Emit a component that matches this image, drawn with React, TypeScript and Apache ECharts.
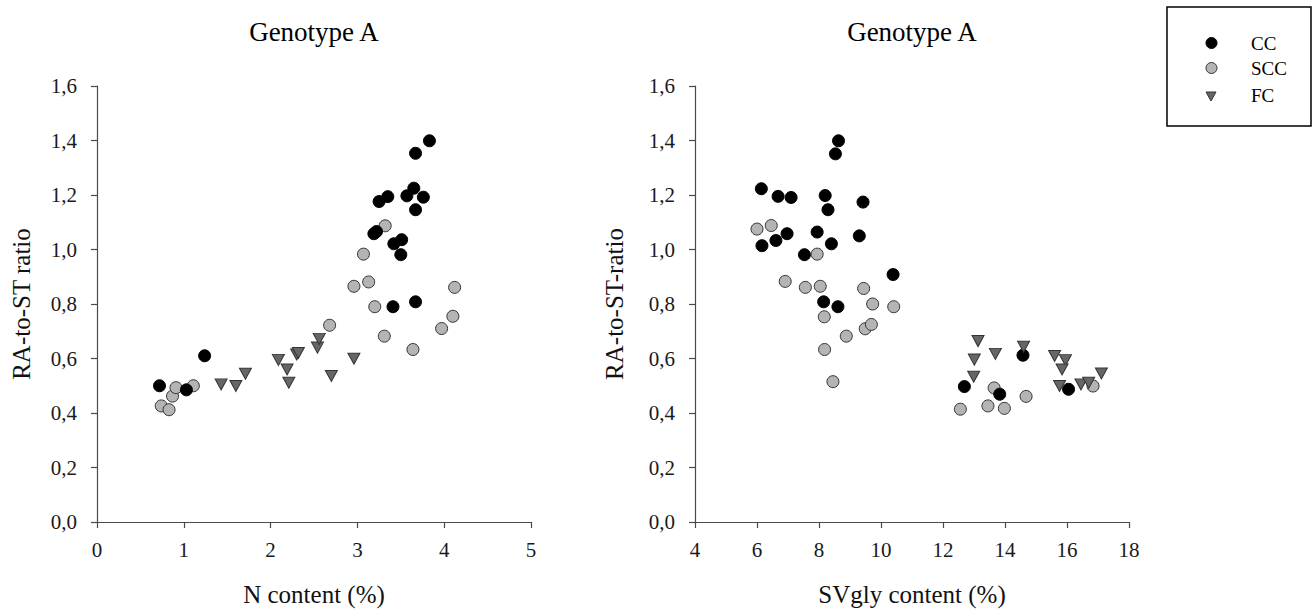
import React, { useEffect, useRef } from "react";
import * as echarts from "echarts";

const FONT = "Liberation Serif";

// Panel titles and axis names
const panelTitles = ["Genotype A", "Genotype A"];
const xNames = ["N content (%)", "SVgly content (%)"];
const yNames = ["RA-to-ST ratio", "RA-to-ST-ratio"];
const seriesNames = ["CC", "SCC", "FC"];

// Left panel: N content (%) vs RA-to-ST ratio
const nCC: [number, number][] = [
  [0.72, 0.5], [1.03, 0.485], [1.24, 0.61], [3.19, 1.058], [3.22, 1.066], [3.25, 1.176],
  [3.35, 1.194], [3.42, 1.021], [3.51, 1.036], [3.5, 0.981], [3.57, 1.197], [3.65, 1.225],
  [3.67, 1.353], [3.67, 1.146], [3.76, 1.192], [3.83, 1.399], [3.41, 0.79], [3.67, 0.808],
];
const nSCC: [number, number][] = [
  [0.74, 0.426], [0.83, 0.412], [0.87, 0.462], [0.91, 0.493], [1.11, 0.5], [2.68, 0.722],
  [2.96, 0.865], [3.07, 0.983], [3.13, 0.881], [3.2, 0.79], [3.31, 0.682], [3.32, 1.087],
  [3.64, 0.633], [3.97, 0.71], [4.1, 0.755], [4.12, 0.861],
];
const nFC: [number, number][] = [
  [1.43, 0.505], [1.6, 0.499], [1.71, 0.544], [2.09, 0.595], [2.19, 0.56], [2.21, 0.511],
  [2.3, 0.615], [2.32, 0.62], [2.54, 0.64], [2.56, 0.672], [2.7, 0.536], [2.96, 0.599],
];

// Right panel: SVgly content (%) vs RA-to-ST ratio
const sCC: [number, number][] = [
  [6.14, 1.223], [6.16, 1.014], [6.61, 1.033], [6.68, 1.195], [6.97, 1.058], [7.1, 1.191],
  [7.53, 0.981], [7.94, 1.064], [8.2, 1.198], [8.29, 1.146], [8.4, 1.021], [8.53, 1.351],
  [8.63, 1.399], [8.15, 0.808], [8.61, 0.79], [9.3, 1.05], [9.42, 1.174], [10.39, 0.908],
  [12.69, 0.497], [13.83, 0.469], [14.58, 0.612], [16.05, 0.487],
];
const sSCC: [number, number][] = [
  [6.0, 1.075], [6.46, 1.088], [6.91, 0.883], [7.56, 0.861], [7.94, 0.983], [8.04, 0.865],
  [8.17, 0.753], [8.18, 0.633], [8.45, 0.515], [8.88, 0.682], [9.44, 0.857], [9.49, 0.709],
  [9.69, 0.725], [9.73, 0.8], [10.41, 0.79], [13.65, 0.492], [12.56, 0.414], [13.45, 0.426],
  [13.98, 0.417], [14.68, 0.461], [16.84, 0.499],
];
const sFC: [number, number][] = [
  [13.13, 0.664], [13.69, 0.617], [13.01, 0.596], [12.99, 0.533], [14.6, 0.643], [15.6, 0.609],
  [15.95, 0.594], [15.84, 0.56], [15.76, 0.499], [16.45, 0.505], [16.7, 0.511], [17.11, 0.545],
];

// Axis ranges
const xRanges = [
  { min: 0, max: 5, interval: 1 },
  { min: 4, max: 18, interval: 2 },
];
const yRange = { min: 0, max: 1.6, interval: 0.2 };

const TRI = "path://M0,0 L10,0 L5,9 Z";
const AXIS_COLOR = "#4a4a4a";

const styles = {
  CC: { symbol: "circle", symbolSize: 12, itemStyle: { color: "#000000", borderColor: "#000000", borderWidth: 1, opacity: 1 } },
  SCC: { symbol: "circle", symbolSize: 12, itemStyle: { color: "#b4b4b4", borderColor: "#333333", borderWidth: 1, opacity: 1 } },
  FC: { symbol: TRI, symbolSize: [12, 11], itemStyle: { color: "#666666", borderColor: "#333333", borderWidth: 1, opacity: 1 } },
};

function xAxis(i: number, nameGap: number) {
  return {
    type: "value",
    gridIndex: i,
    ...xRanges[i],
    name: xNames[i],
    nameLocation: "middle",
    nameGap,
    nameTextStyle: { fontFamily: FONT, fontSize: 25, color: "#111" },
    axisLine: { show: true, onZero: false, lineStyle: { color: AXIS_COLOR, width: 1.2 } },
    axisTick: { show: true, inside: false, length: 6, lineStyle: { color: AXIS_COLOR, width: 1.2 } },
    axisLabel: { fontFamily: FONT, fontSize: 21, color: "#1a1a1a", margin: 17 },
    splitLine: { show: false },
  };
}

function yAxis(i: number, nameGap: number) {
  return {
    type: "value",
    gridIndex: i,
    ...yRange,
    name: yNames[i],
    nameLocation: "middle",
    nameGap,
    nameTextStyle: { fontFamily: FONT, fontSize: 25, color: "#111" },
    axisLine: { show: true, onZero: false, lineStyle: { color: AXIS_COLOR, width: 1.2 } },
    axisTick: { show: true, inside: false, length: 6, lineStyle: { color: AXIS_COLOR, width: 1.2 } },
    axisLabel: {
      fontFamily: FONT,
      fontSize: 21,
      color: "#1a1a1a",
      margin: 20,
      formatter: (v: number) => v.toFixed(1).replace(".", ","),
    },
    splitLine: { show: false },
  };
}

function series(name: string, data: [number, number][], i: number) {
  const st = (styles as any)[name];
  return {
    type: "scatter",
    name,
    xAxisIndex: i,
    yAxisIndex: i,
    data,
    symbol: st.symbol,
    symbolSize: st.symbolSize,
    itemStyle: st.itemStyle,
    emphasis: { disabled: true },
  };
}

const legendText = { fontFamily: FONT, fontSize: 19, fill: "#000" };

export default function App() {
  const ref = useRef<HTMLDivElement>(null);
  useEffect(() => {
    document.body.style.margin = "0";
    const chart = echarts.init(ref.current!, null, { renderer: "svg" });
    chart.setOption({
      animation: false,
      backgroundColor: "#ffffff",
      title: [
        { text: panelTitles[0], left: 314, top: 18, textAlign: "center", padding: 0, textStyle: { fontFamily: FONT, fontSize: 27, fontWeight: "normal", color: "#000" } },
        { text: panelTitles[1], left: 912, top: 18, textAlign: "center", padding: 0, textStyle: { fontFamily: FONT, fontSize: 27, fontWeight: "normal", color: "#000" } },
      ],
      grid: [
        { left: 97, top: 86, width: 434, height: 436 },
        { left: 695, top: 86, width: 434, height: 436 },
      ],
      xAxis: [xAxis(0, 60), xAxis(1, 60)],
      yAxis: [yAxis(0, 63), yAxis(1, 68)],
      series: [
        series("SCC", nSCC, 0),
        series("CC", nCC, 0),
        series("FC", nFC, 0),
        series("SCC", sSCC, 1),
        series("CC", sCC, 1),
        series("FC", sFC, 1),
      ],
      graphic: [
        { type: "rect", shape: { x: 1167, y: 7, width: 144, height: 119 }, style: { fill: "#fff", stroke: "#000", lineWidth: 1.5 } },
        { type: "circle", shape: { cx: 1211.5, cy: 43, r: 5.5 }, style: { fill: "#000", stroke: "#000", lineWidth: 1 } },
        { type: "circle", shape: { cx: 1211.5, cy: 68, r: 5.5 }, style: { fill: "#b4b4b4", stroke: "#333", lineWidth: 1 } },
        { type: "polygon", shape: { points: [[1206, 92], [1216, 92], [1211, 101]] }, style: { fill: "#666", stroke: "#333", lineWidth: 1 } },
        { type: "text", x: 1251, y: 43, style: { ...legendText, text: seriesNames[0], verticalAlign: "middle" } },
        { type: "text", x: 1251, y: 68, style: { ...legendText, text: seriesNames[1], verticalAlign: "middle" } },
        { type: "text", x: 1251, y: 95, style: { ...legendText, text: seriesNames[2], verticalAlign: "middle" } },
      ],
    });
    return () => chart.dispose();
  }, []);
  return <div ref={ref} style={{ width: 1313, height: 614 }} />;
}
